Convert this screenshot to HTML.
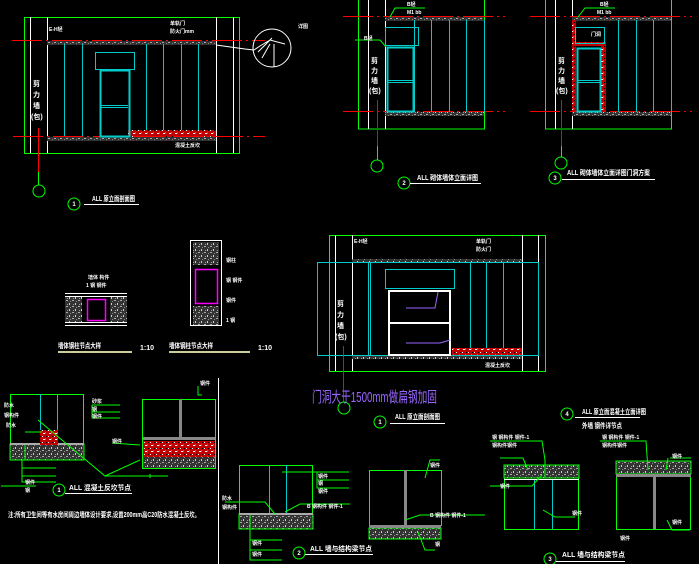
<!DOCTYPE html>
<html><head><meta charset="utf-8"><style>
html,body{margin:0;padding:0;background:#000;}
svg{display:block}
text{font-family:"Liberation Sans","Noto Sans CJK SC",sans-serif;fill:#fff;font-weight:bold}
</style></head><body>
<svg width="699" height="564" viewBox="0 0 699 564" xmlns="http://www.w3.org/2000/svg">
<defs>
<pattern id="ht" width="6" height="6" patternUnits="userSpaceOnUse"><rect width="6" height="6" fill="#333"/><rect x="0" y="0" width="2" height="1" fill="#aaa"/><rect x="3" y="3" width="1" height="2" fill="#ccc"/><rect x="4" y="1" width="1" height="1" fill="#888"/><rect x="1" y="4" width="1" height="1" fill="#999"/></pattern>
<pattern id="rh" width="6" height="6" patternUnits="userSpaceOnUse"><rect width="6" height="6" fill="#c00000"/><rect x="1" y="1" width="2" height="1" fill="#fff"/><rect x="4" y="4" width="1" height="1" fill="#000"/><rect x="3" y="0" width="1" height="2" fill="#f33"/><rect x="0" y="4" width="1" height="1" fill="#eee"/></pattern>
</defs>
<rect width="699" height="564" fill="#000"/>
<g fill="none" stroke-width="1">
<!-- Drawing 1 -->
<rect x="24.5" y="17.5" width="215" height="136" stroke="#0f0"/>
<g stroke="#fff"><line x1="30.5" y1="17" x2="30.5" y2="153"/><line x1="47.5" y1="17" x2="47.5" y2="153"/><line x1="216.5" y1="17" x2="216.5" y2="153"/><line x1="233.5" y1="17" x2="233.5" y2="153"/></g>
<rect x="47" y="41" width="169" height="4" fill="url(#ht)" stroke="none"/>
<rect x="47" y="137" width="169" height="4" fill="url(#ht)" stroke="none"/>
<rect x="128" y="130" width="88" height="7" fill="url(#rh)" stroke="none"/>
<g stroke="#f00" stroke-dasharray="30 4 2 4"><line x1="12" y1="40.5" x2="265" y2="40.5"/><line x1="13" y1="136.5" x2="265" y2="136.5"/></g>
<g stroke="#0cc"><line x1="64.5" y1="44" x2="64.5" y2="136"/><line x1="82.5" y1="44" x2="82.5" y2="136"/><line x1="146.5" y1="44" x2="146.5" y2="130"/><line x1="163.5" y1="44" x2="163.5" y2="130"/><line x1="181.5" y1="44" x2="181.5" y2="130"/><line x1="198.5" y1="44" x2="198.5" y2="130"/>
<rect x="95.5" y="52.5" width="39" height="17"/><rect x="100.5" y="70.5" width="29" height="66" stroke-width="2"/><line x1="101" y1="105.5" x2="128" y2="105.5"/><line x1="101" y1="107.5" x2="128" y2="107.5"/></g>
<circle cx="272" cy="48" r="19" stroke="#fff"/><path d="M216 45 L245 49 L254 50 M254 50 L260 46 L270 40 L285 44 M258 52 L272 38 M270 44 L262 58 M274 44 L274 67" stroke="#fff"/>
<line x1="38.5" y1="128" x2="38.5" y2="172" stroke="#f00"/><line x1="38.5" y1="172" x2="38.5" y2="185" stroke="#0f0"/>
<circle cx="39" cy="191" r="6" stroke="#0f0"/><circle cx="74" cy="204" r="6" stroke="#0f0"/>
<line x1="84" y1="204.5" x2="139" y2="204.5" stroke="#fff"/>
<!-- Drawing 2 -->
<rect x="358.5" y="-2" width="126" height="131" stroke="#0f0"/>
<g stroke="#fff"><line x1="368.5" y1="0" x2="368.5" y2="129"/><line x1="385.5" y1="0" x2="385.5" y2="129"/></g>
<rect x="385" y="17" width="99" height="4" fill="url(#ht)" stroke="none"/><rect x="385" y="112" width="99" height="4" fill="url(#ht)" stroke="none"/>
<g stroke="#f00" stroke-dasharray="30 4 2 4"><line x1="343" y1="16.5" x2="505" y2="16.5"/><line x1="343" y1="111.5" x2="505" y2="111.5"/></g>
<g stroke="#0cc"><rect x="385.5" y="27.5" width="33" height="18"/><rect x="387.5" y="47.5" width="26" height="64" stroke-width="2"/><line x1="388" y1="80.5" x2="413" y2="80.5"/><line x1="388" y1="82.5" x2="413" y2="82.5"/><line x1="414.5" y1="20" x2="414.5" y2="112"/><line x1="431.5" y1="20" x2="431.5" y2="112"/><line x1="449.5" y1="20" x2="449.5" y2="112"/><line x1="466.5" y1="20" x2="466.5" y2="112"/><line x1="484.5" y1="20" x2="484.5" y2="112"/></g>
<path d="M355 40 L380 40 L386 47 M390 17 L395 8 L425 8" stroke="#0f0"/>
<line x1="377.5" y1="100" x2="377.5" y2="146" stroke="#f00"/><line x1="377.5" y1="146" x2="377.5" y2="160" stroke="#0f0"/>
<circle cx="377" cy="166" r="6" stroke="#0f0"/><circle cx="404" cy="183" r="6" stroke="#0f0"/>
<line x1="410" y1="183.5" x2="481" y2="183.5" stroke="#fff"/>
<!-- Drawing 3 -->
<rect x="545.5" y="-2" width="126" height="131" stroke="#0f0"/>
<g stroke="#fff"><line x1="555.5" y1="0" x2="555.5" y2="129"/><line x1="572.5" y1="0" x2="572.5" y2="129"/></g>
<rect x="572" y="17" width="99" height="4" fill="url(#ht)" stroke="none"/><rect x="572" y="112" width="99" height="4" fill="url(#ht)" stroke="none"/>
<path d="M572 20 H576 V112 H572Z M576 42 H606 V46 H576Z M601 46 H606 V112 H601Z" fill="url(#rh)" stroke="none"/>
<g stroke="#f00" stroke-dasharray="30 4 2 4"><line x1="530" y1="16.5" x2="692" y2="16.5"/><line x1="530" y1="111.5" x2="692" y2="111.5"/></g>
<g stroke="#0cc"><rect x="575.5" y="27.5" width="29" height="16"/><rect x="577.5" y="48.5" width="23" height="63" stroke-width="2"/><line x1="578" y1="80.5" x2="600" y2="80.5"/><line x1="578" y1="82.5" x2="600" y2="82.5"/><line x1="618.5" y1="20" x2="618.5" y2="112"/><line x1="636.5" y1="20" x2="636.5" y2="112"/><line x1="653.5" y1="20" x2="653.5" y2="112"/><line x1="671.5" y1="20" x2="671.5" y2="112"/></g>
<path d="M578 17 L585 8 L615 8" stroke="#0f0"/>
<line x1="561.5" y1="100" x2="561.5" y2="146" stroke="#f00"/><line x1="561.5" y1="146" x2="561.5" y2="157" stroke="#0f0"/>
<circle cx="561" cy="163" r="6" stroke="#0f0"/><circle cx="555" cy="178" r="6" stroke="#0f0"/>
<line x1="562" y1="179.5" x2="655" y2="179.5" stroke="#fff"/>
<!-- small details -->
<g stroke="#fff"><line x1="65" y1="293.5" x2="127" y2="293.5"/><line x1="65" y1="296.5" x2="127" y2="296.5"/><line x1="65" y1="322.5" x2="127" y2="322.5"/><line x1="65" y1="325.5" x2="127" y2="325.5"/></g>
<rect x="65" y="297" width="17" height="25" fill="url(#ht)" stroke="none"/><rect x="110" y="297" width="17" height="25" fill="url(#ht)" stroke="none"/>
<rect x="87.5" y="299.5" width="18" height="21" stroke="#f0f" stroke-width="1.5"/>
<rect x="190.5" y="240.5" width="31" height="85" stroke="#fff"/>
<rect x="193" y="242" width="26" height="23" fill="url(#ht)" stroke="none"/><rect x="193" y="306" width="26" height="19" fill="url(#ht)" stroke="none"/>
<rect x="195.5" y="269.5" width="22" height="34" stroke="#f0f" stroke-width="1.5"/>
<g stroke="#cc9" stroke-width="2"><line x1="58" y1="352" x2="132" y2="352"/><line x1="169" y1="352" x2="250" y2="352"/></g>
<!-- Drawing 4 -->
<rect x="329.5" y="235.5" width="216" height="136" stroke="#0f0"/>
<g stroke="#fff"><line x1="335.5" y1="235" x2="335.5" y2="371"/><line x1="352.5" y1="235" x2="352.5" y2="371"/><line x1="522.5" y1="235" x2="522.5" y2="371"/><line x1="538.5" y1="235" x2="538.5" y2="371"/></g>
<rect x="352" y="259" width="170" height="4" fill="url(#ht)" stroke="none"/><rect x="352" y="355" width="170" height="4" fill="url(#ht)" stroke="none"/>
<rect x="452" y="348" width="70" height="8" fill="url(#rh)" stroke="none"/>
<g stroke="#0cc"><rect x="317.5" y="262.5" width="221" height="93"/><line x1="370.5" y1="262" x2="370.5" y2="355"/><line x1="368.5" y1="262" x2="368.5" y2="355"/><line x1="470.5" y1="262" x2="470.5" y2="348"/><line x1="486.5" y1="262" x2="486.5" y2="348"/><line x1="503.5" y1="262" x2="503.5" y2="348"/><rect x="385.5" y="269.5" width="69" height="19"/></g>
<g stroke="#fff" stroke-width="2"><rect x="389" y="291" width="61" height="64"/><line x1="389" y1="323" x2="450" y2="323"/></g>
<g stroke="#96f"><path d="M406 308 H435 L438 292"/><path d="M406 343 H440 L450 340"/></g>
<line x1="343.5" y1="346" x2="343.5" y2="402" stroke="#f00"/>
<circle cx="344" cy="408" r="6" stroke="#0f0"/><circle cx="380" cy="422" r="6" stroke="#0f0"/>
<line x1="390" y1="423.5" x2="445" y2="423.5" stroke="#fff"/>
<!-- divider -->
<line x1="218.5" y1="378" x2="218.5" y2="564" stroke="#fff"/>
<!-- detail 1 -->
<rect x="10.5" y="394.5" width="73" height="51" stroke="#0f0"/>
<rect x="10" y="444" width="74" height="16" fill="url(#ht)" stroke="#0f0"/>
<line x1="10" y1="444" x2="84" y2="444" stroke="#aaa" stroke-width="2"/>
<rect x="40" y="430" width="18" height="15" fill="url(#rh)" stroke="none"/>
<g stroke="#0cc"><line x1="40.5" y1="394" x2="40.5" y2="430"/><line x1="57.5" y1="394" x2="57.5" y2="430"/></g>
<rect x="142.5" y="399.5" width="73" height="69" stroke="#0f0"/>
<rect x="143" y="441" width="72" height="16" fill="url(#rh)" stroke="none"/>
<rect x="143" y="457" width="72" height="11" fill="url(#ht)" stroke="none"/>
<rect x="143" y="437" width="72" height="3" fill="#888" stroke="none"/>
<rect x="179" y="399" width="3" height="38" fill="#888" stroke="none"/>
<g stroke="#0f0"><path d="M38 420 L105 476 L140 460 M105 476 L168 476 M150 474 L150 478"/><path d="M25 432 L42 432 M25 445 L25 460 L20 460"/><path d="M92 405 L120 405 M92 405 L92 418 L120 418 M92 412 L120 412"/><path d="M22 460 V482 H56 M22 468 H56 M22 476 H56 M1 486 H36"/><path d="M112 443 L140 445 M198 386 L198 395 L202 395"/></g>
<circle cx="59" cy="490" r="6" stroke="#0f0"/>
<line x1="65" y1="493.5" x2="132" y2="493.5" stroke="#fff"/>
<!-- detail 2 -->
<rect x="239.5" y="465.5" width="73" height="49" stroke="#0f0"/>
<rect x="239" y="514" width="74" height="15" fill="url(#ht)" stroke="#0f0"/>
<line x1="239" y1="514" x2="313" y2="514" stroke="#aaa" stroke-width="2"/>
<g stroke="#0cc"><line x1="269.5" y1="465" x2="269.5" y2="513"/><line x1="286.5" y1="465" x2="286.5" y2="513"/></g>
<g stroke="#0f0"><path d="M282 472 H349 M317 472 V488 H349 M317 480 H349"/><path d="M225 502 H265 L275 514 M285 512 L300 504 H350"/><path d="M250 515 V560 H282 M250 540 H282 M250 550 H282"/></g>
<rect x="369.5" y="470.5" width="72" height="55" stroke="#0f0"/>
<rect x="369" y="528" width="72" height="11" fill="url(#ht)" stroke="#0f0"/>
<rect x="369" y="525" width="72" height="3" fill="#888" stroke="none"/>
<rect x="404" y="470" width="3" height="55" fill="#888" stroke="none"/>
<g stroke="#0f0"><path d="M405 520 L420 515 H485 M425 478 L430 460 H440 M418 532 L425 550 H435"/></g>
<circle cx="299" cy="553" r="6" stroke="#0f0"/>
<line x1="305" y1="554.5" x2="373" y2="554.5" stroke="#fff"/>
<!-- detail 3 -->
<rect x="504.5" y="465.5" width="74" height="64" stroke="#0f0"/>
<rect x="504" y="465" width="75" height="13" fill="url(#ht)" stroke="#0f0"/>
<line x1="504" y1="479.5" x2="579" y2="479.5" stroke="#fff"/>
<g stroke="#0cc"><line x1="534.5" y1="480" x2="534.5" y2="529"/><line x1="552.5" y1="480" x2="552.5" y2="529"/></g>
<rect x="616.5" y="461.5" width="74" height="68" stroke="#0f0"/>
<rect x="616" y="461" width="75" height="13" fill="url(#ht)" stroke="#0f0"/>
<rect x="616" y="474" width="75" height="3" fill="#888" stroke="none"/>
<rect x="653" y="477" width="3" height="52" fill="#888" stroke="none"/>
<g stroke="#0f0"><path d="M490 441 H542 L545 460 V478 M490 486 H532 L542 475 M543 510 L555 517 H575 M500 458 H523 L528 470"/><path d="M600 441 H646 L648 470 M670 458 H691 M668 458 L666 470 M667 520 L672 530 H690"/></g>
<circle cx="550" cy="559" r="6" stroke="#0f0"/><line x1="556" y1="561.5" x2="625" y2="561.5" stroke="#fff"/>
<circle cx="567" cy="414" r="6" stroke="#0f0"/><line x1="575" y1="417.5" x2="640" y2="417.5" stroke="#fff"/>
</g>
<!-- texts -->
<g font-size="5">
<text x="49" y="31">E-H轻</text><text x="170" y="25">单轨门</text><text x="170" y="33">防火门mm</text><text x="298" y="28">详图</text>
<text x="175" y="147">混凝土反坎</text>
<text x="407" y="6">B轻</text><text x="407" y="14">M1 bb</text><text x="364" y="40">B轻</text>
<text x="600" y="6">B轻</text><text x="597" y="14">M1 bb</text><text x="591" y="36">门洞</text>
<text x="354" y="243">E-H轻</text><text x="476" y="243">单轨门</text><text x="476" y="251">防火门</text><text x="485" y="367">混凝土反坎</text>
<text x="88" y="279">墙体 构件</text><text x="86" y="287">1 钢 钢件</text><text x="226" y="262">钢柱</text><text x="226" y="282">钢 钢件</text><text x="226" y="302">钢件</text><text x="226" y="322">1 钢</text>
<text x="4" y="407">防水</text><text x="4" y="417">钢构件</text><text x="6" y="427">防水</text><text x="92" y="403">砂浆</text><text x="92" y="411">钢</text><text x="92" y="418">钢件</text>
<text x="25" y="484">钢件</text><text x="25" y="492">钢</text><text x="112" y="443">钢件</text><text x="200" y="385">钢件</text>
<text x="222" y="500">防水</text><text x="222" y="509">钢构件</text><text x="318" y="478">钢件</text><text x="318" y="485">钢</text><text x="318" y="493">钢件</text>
<text x="307" y="508">B 钢构件 钢件-1</text><text x="252" y="545">钢件</text><text x="252" y="556">钢件</text>
<text x="430" y="467">钢件</text><text x="430" y="517">B 钢构件 钢件-1</text><text x="435" y="546">钢</text>
<text x="492" y="439">钢 钢构件 钢件-1</text><text x="492" y="447">钢构件钢件</text><text x="500" y="488">钢件</text><text x="572" y="515">钢件</text>
<text x="602" y="439">钢 钢构件 钢件-1</text><text x="602" y="447">钢构件钢件</text><text x="672" y="458">钢件</text><text x="672" y="524">钢件</text><text x="620" y="540">钢件</text>
</g>
<g font-size="7">
<text x="33" y="86">剪</text><text x="33" y="97">力</text><text x="33" y="108">墙</text><text x="31" y="119">(包)</text>
<text x="371" y="63">剪</text><text x="371" y="73">力</text><text x="371" y="83">墙</text><text x="369" y="93">(包)</text>
<text x="558" y="63">剪</text><text x="558" y="73">力</text><text x="558" y="83">墙</text><text x="556" y="93">(包)</text>
<text x="337" y="306">剪</text><text x="337" y="317">力</text><text x="337" y="328">墙</text><text x="335" y="339">(包)</text>
</g>
<g font-size="7">
<text x="92" y="201" textLength="43" lengthAdjust="spacingAndGlyphs">ALL 原立面剖面图</text>
<text x="417" y="180" textLength="61" lengthAdjust="spacingAndGlyphs">ALL 砌体墙体立面详图</text>
<text x="567" y="175" textLength="83" lengthAdjust="spacingAndGlyphs">ALL 砌体墙体立面详图门洞方案</text>
<text x="395" y="419" textLength="45" lengthAdjust="spacingAndGlyphs">ALL 原立面剖面图</text>
<text x="582" y="414" textLength="64" lengthAdjust="spacingAndGlyphs">ALL 原立面混凝土立面详图</text>
<text x="582" y="428" textLength="40" lengthAdjust="spacingAndGlyphs">外墙 钢件详节点</text>
<text x="69" y="490" textLength="62" lengthAdjust="spacingAndGlyphs">ALL 混凝土反坎节点</text>
<text x="310" y="551" textLength="62" lengthAdjust="spacingAndGlyphs">ALL 墙与结构梁节点</text>
<text x="562" y="557" textLength="63" lengthAdjust="spacingAndGlyphs">ALL 墙与结构梁节点</text>
<text x="8" y="517" textLength="192" lengthAdjust="spacingAndGlyphs">注:所有卫生间等有水房间周边墙体设计要求,设置200mm高C20防水混凝土反坎。</text>
</g>
<g font-size="7" style="fill:#dd9"><text x="58" y="348" textLength="43" lengthAdjust="spacingAndGlyphs">墙体钢柱节点大样</text><text x="169" y="348" textLength="44" lengthAdjust="spacingAndGlyphs">墙体钢柱节点大样</text><text x="140" y="350">1:10</text><text x="258" y="350">1:10</text></g>
<text x="312" y="402" font-size="15" textLength="125" lengthAdjust="spacingAndGlyphs" style="fill:#96f;font-weight:normal">门洞大于1500mm做扁钢加固</text>
<g font-size="6" text-anchor="middle"><text x="74" y="206">1</text><text x="59" y="492">1</text><text x="299" y="555">2</text><text x="550" y="561">3</text><text x="404" y="185">2</text><text x="555" y="180">3</text><text x="380" y="424">1</text><text x="567" y="416">4</text></g>
</svg>
</body></html>
